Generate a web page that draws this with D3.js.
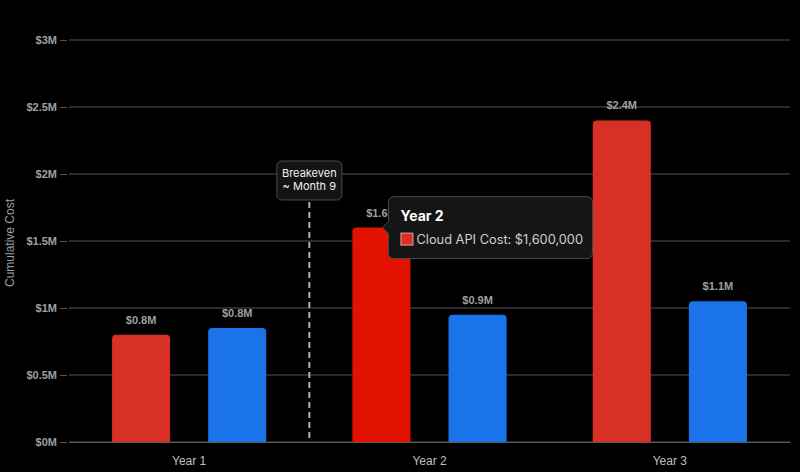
<!DOCTYPE html>
<html>
<head>
<meta charset="utf-8">
<script src="https://cdn.jsdelivr.net/npm/d3@7"></script>
<style>
  html, body { margin: 0; padding: 0; background: #000; }
  svg { display: block; font-family: "Liberation Sans", Arial, sans-serif; }
</style>
</head>
<body>
<svg id="chart" width="800" height="472"></svg>
<script>
const categories = ["Year 1", "Year 2", "Year 3"];
const seriesNames = ["Cloud API Cost", "Self-Hosted Cost"];
const cloudValues = [800000, 1600000, 2400000];
const selfHostedValues = [850000, 950000, 1050000];
const yTicks = [0, 500000, 1000000, 1500000, 2000000, 2500000, 3000000];
const breakevenLabel = ["Breakeven", "~ Month 9"];
const hoverCategory = "Year 2";
const hoverSeries = "Cloud API Cost";

const colors = { "Cloud API Cost": "#d93025", "Self-Hosted Cost": "#1a73e8" };
const hoverColor = "#e31200";

const W = 800, H = 472;
const margin = { left: 69, right: 10, top: 40, bottom: 30 };
const svg = d3.select("#chart");

const x0 = d3.scaleBand().domain(categories).range([margin.left, W - margin.right]).padding(0);
const x1 = d3.scaleBand().domain(seriesNames).range([0, x0.bandwidth()]).paddingInner(0.396).paddingOuter(0.448);
const y = d3.scaleLinear().domain([0, 3000000]).range([H - margin.bottom, margin.top]);

const fmtTick = v => v === 0 ? "$0M" : "$" + d3.format("~g")(v / 1e6) + "M";
const fmtLabel = v => "$" + (v / 1e6).toFixed(1) + "M";

// Grid lines
svg.append("g").selectAll("line").data(yTicks).join("line")
  .attr("x1", margin.left).attr("x2", W - margin.right)
  .attr("y1", d => y(d)).attr("y2", d => y(d))
  .attr("stroke", "#555").attr("stroke-width", 1);

// Y axis ticks + labels
const yAxis = svg.append("g").attr("transform", `translate(${margin.left - 2},0)`)
  .call(d3.axisLeft(y).tickValues(yTicks).tickFormat(fmtTick).tickSize(7).tickPadding(3));
yAxis.select(".domain").remove();
yAxis.selectAll(".tick line").attr("stroke", "#555");
yAxis.selectAll(".tick text").attr("fill", "#9aa0a6").attr("font-size", 11).attr("font-weight", "bold")
  .attr("font-family", "Liberation Sans, Arial, sans-serif");

// Y axis title
svg.append("text")
  .attr("transform", `translate(14,${(margin.top + H - margin.bottom) / 2 + 2}) rotate(-90)`)
  .attr("text-anchor", "middle").attr("fill", "#9aa0a6").attr("font-size", 12)
  .text("Cumulative Cost");

// Bars data
const data = categories.map((c, i) => ({ cat: c, vals: [
  { series: seriesNames[0], value: cloudValues[i] },
  { series: seriesNames[1], value: selfHostedValues[i] }
]}));

const r = 4;
function topRounded(x, yTop, w, yBase) {
  return `M${x},${yBase}V${yTop + r}Q${x},${yTop} ${x + r},${yTop}H${x + w - r}Q${x + w},${yTop} ${x + w},${yTop + r}V${yBase}Z`;
}

const groups = svg.append("g").selectAll("g").data(data).join("g")
  .attr("transform", d => `translate(${x0(d.cat)},0)`);

groups.selectAll("path").data(d => d.vals.map(v => ({ ...v, cat: d.cat }))).join("path")
  .attr("d", d => topRounded(x1(d.series), y(d.value), x1.bandwidth(), y(0)))
  .attr("fill", d => (d.cat === hoverCategory && d.series === hoverSeries) ? hoverColor : colors[d.series]);

groups.selectAll("text").data(d => d.vals).join("text")
  .attr("x", d => x1(d.series) + x1.bandwidth() / 2)
  .attr("y", d => y(d.value) - 11)
  .attr("text-anchor", "middle").attr("fill", "#9aa0a6")
  .attr("font-size", 11).attr("font-weight", "bold")
  .text(d => fmtLabel(d.value));

// X axis
const xAxis = svg.append("g").attr("transform", `translate(0,${y(0)})`)
  .call(d3.axisBottom(x0).tickSize(0).tickPadding(14));
xAxis.select(".domain").attr("stroke", "#555");
xAxis.selectAll(".tick text").attr("fill", "#bdc1c6").attr("font-size", 12)
  .attr("font-family", "Liberation Sans, Arial, sans-serif");

// Breakeven line
const bx = x0("Year 2");
svg.append("line")
  .attr("x1", bx).attr("x2", bx).attr("y1", 202).attr("y2", y(0))
  .attr("stroke", "#aab2bb").attr("stroke-width", 2).attr("stroke-dasharray", "6,4");

const bg = svg.append("g");
bg.append("rect").attr("x", bx - 32.5).attr("y", 161).attr("width", 65).attr("height", 39)
  .attr("rx", 5).attr("fill", "#141414").attr("stroke", "#4a4a4a");
bg.selectAll("text").data(breakevenLabel).join("text")
  .attr("x", bx).attr("y", (d, i) => 177 + i * 12.5)
  .attr("text-anchor", "middle").attr("fill", "#f1f1f1").attr("font-size", 11)
  .attr("font-family", "Inter, Arial, sans-serif")
  .text(d => d);

// Tooltip
const hi = categories.indexOf(hoverCategory);
const hv = cloudValues[hi];
const tipX = x0(hoverCategory) + x1(hoverSeries) + x1.bandwidth() - 22;
const tipY = y(hv);
const tip = svg.append("g").attr("transform", `translate(${tipX},${tipY - 31})`);
tip.append("path")
  .attr("d", "M6,0H198Q204,0 204,6V56Q204,62 198,62H6Q0,62 0,56V37L-6,31L0,25V6Q0,0 6,0Z")
  .attr("fill", "#151515").attr("stroke", "#4a4a4a").attr("stroke-width", 1);
tip.append("text").attr("x", 12).attr("y", 24).attr("fill", "#ffffff")
  .attr("font-size", 14).attr("font-weight", "bold").attr("font-family", "Inter, Arial, sans-serif")
  .text(hoverCategory);
tip.append("rect").attr("x", 12.5).attr("y", 36.5).attr("width", 12).attr("height", 12)
  .attr("fill", colors[hoverSeries]).attr("stroke", "#e8a09a").attr("stroke-width", 1);
tip.append("text").attr("x", 28).attr("y", 47.5).attr("fill", "#cfcfcf")
  .attr("font-size", 12.8).attr("font-family", "Inter, Arial, sans-serif")
  .text(`${hoverSeries}: ${d3.format("$,")(hv)}`);
</script>
</body>
</html>
